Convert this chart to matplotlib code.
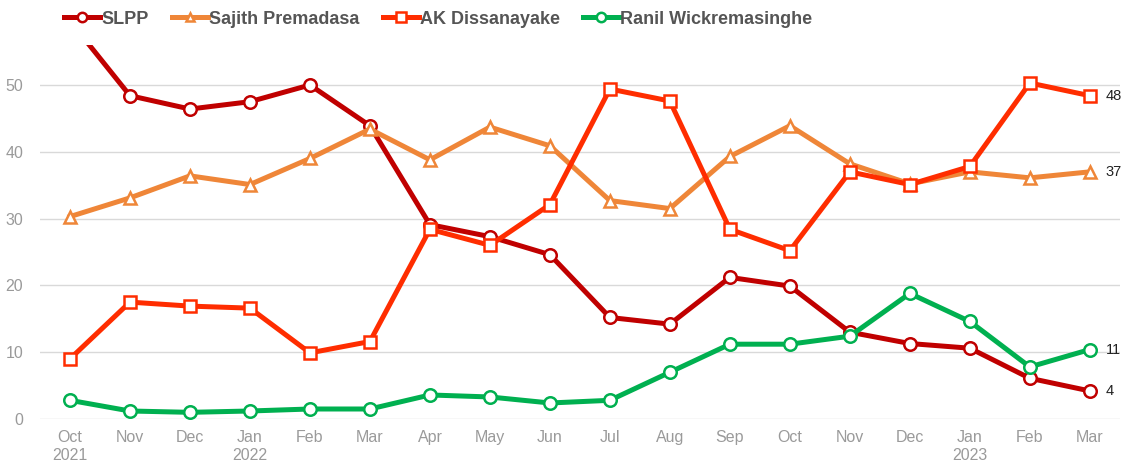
import matplotlib.pyplot as plt
import numpy as np

plt.rcParams['font.family'] = ['Liberation Sans', 'DejaVu Sans']

months = ["Oct\n2021", "Nov", "Dec", "Jan\n2022", "Feb", "Mar", "Apr", "May", "Jun",
          "Jul", "Aug", "Sep", "Oct", "Nov", "Dec", "Jan\n2023", "Feb", "Mar"]

slpp = [59.6, 48.4, 46.4, 47.5, 50.0, 43.9, 29.1, 27.3, 24.6, 15.2, 14.2, 21.2,
        19.9, 13.0, 11.3, 10.6, 6.1, 4.2]
sajith = [30.3, 33.1, 36.4, 35.1, 39.0, 43.4, 38.8, 43.7, 40.9, 32.7, 31.5, 39.3,
          43.9, 38.2, 35.2, 37.0, 36.1, 37.0]
akd = [9.0, 17.5, 16.9, 16.6, 9.9, 11.6, 28.4, 26.0, 32.1, 49.4, 47.6, 28.4,
       25.2, 37.0, 35.1, 37.8, 50.3, 48.4]
ranil = [2.8, 1.2, 1.0, 1.2, 1.5, 1.5, 3.6, 3.3, 2.4, 2.8, 7.0, 11.2,
         11.2, 12.4, 18.8, 14.6, 7.8, 10.4]

names = ["SLPP", "Sajith Premadasa", "AK Dissanayake", "Ranil Wickremasinghe"]
values = [slpp, sajith, akd, ranil]
colors = ["#c00000", "#ef8638", "#ff2d00", "#00b050"]
markers = ["o", "^", "s", "o"]
end_labels = ["4", "37", "48", "11"]

fig = plt.figure(figsize=(11.26, 4.63), dpi=100)
ax = fig.add_axes([0.0355, 0.095, 0.959, 0.808])

x = np.arange(len(months))
handles = []
for name, vals, color, mk, lab in zip(names, values, colors, markers, end_labels):
    ms = 9 if mk != "^" else 8
    h, = ax.plot(x, vals, color=color, lw=3.6, marker=mk, markersize=ms,
                 markerfacecolor="white", markeredgecolor=color, markeredgewidth=1.8,
                 label=name, zorder=3)
    handles.append(h)
    ax.annotate(lab, (x[-1], vals[-1]), xytext=(11.5, 0),
                textcoords="offset points", va="center", ha="left",
                fontsize=10.5, color="#222222", annotation_clip=False)

ax.set_xlim(-0.5, 17.5)
ax.set_ylim(0, 56)
ax.set_yticks([0, 10, 20, 30, 40, 50])
ax.set_xticks(x)
ax.set_xticklabels(months)
ax.tick_params(axis="both", length=0, labelcolor="#9a9a9a", labelsize=11.5)
ax.tick_params(axis="x", pad=8)
ax.tick_params(axis="y", pad=12)
for lbl in ax.get_xticklabels():
    lbl.set_linespacing(1.2)
ax.grid(axis="y", color="#d9d9d9", lw=1)
ax.set_axisbelow(True)
for s in ax.spines.values():
    s.set_visible(False)

leg = fig.legend(handles=handles, loc="upper left", bbox_to_anchor=(0.057, 0.977),
                 ncol=4, frameon=False, fontsize=13, handlelength=2.0,
                 handletextpad=0.05, columnspacing=1.3, markerscale=0.75,
                 borderpad=0, borderaxespad=0)
for t in leg.get_texts():
    t.set_color("#555555")
    t.set_fontweight("bold")

fig.savefig("out.png", dpi=100)
